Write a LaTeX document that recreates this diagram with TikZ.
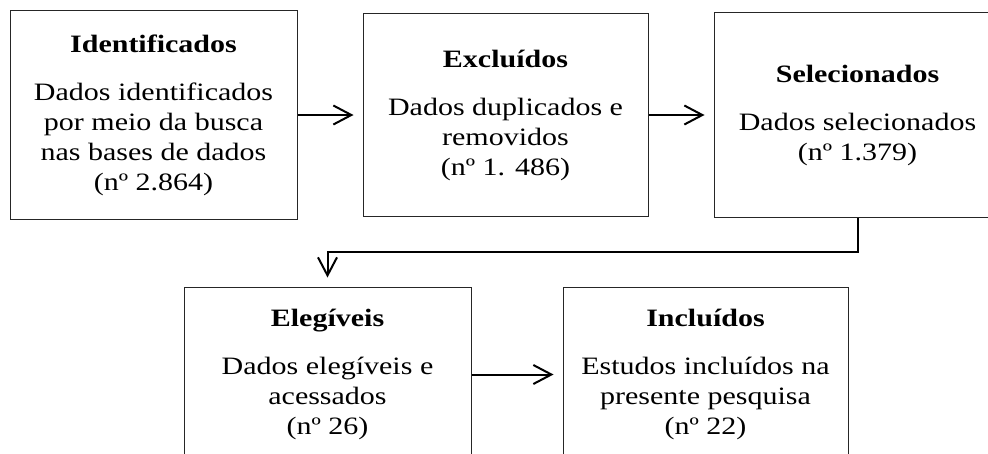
\documentclass[tikz,border=0pt]{standalone}
\usepackage{fontspec}
\setmainfont{Liberation Serif}[FakeStretch=1.2]
\usetikzlibrary{arrows.meta}

\begin{document}
\begin{tikzpicture}[x=1pt,y=1pt]
\tikzstyle{caixa}=[rectangle,draw=black!85,line width=1pt,minimum width=287pt,align=center,font=\fontsize{25}{30}\selectfont,inner sep=0pt]
\tikzstyle{seta}=[line width=2pt,-{Straight Barb[length=18pt,width=19pt]},shorten >=9pt]
\useasboundingbox (0,0) rectangle (988,-453);
\clip (0,0) rectangle (988,-453);
\node [caixa,minimum height=209pt] (1) at (153.5,-115) {\textbf{Identificados}\\[18pt]Dados identificados\\por meio da busca\\nas bases de dados\\(nº 2.864)};
\node [caixa,minimum height=203pt,minimum width=285pt] (2) at (505.5,-115) {\textbf{Excluídos}\\[18pt]Dados duplicados e\\removidos\\(nº 1. 486)};
\node [caixa,minimum height=205pt] (3) at (857.5,-115) {\textbf{Selecionados}\\[18pt]Dados selecionados\\(nº 1.379)};
\node [caixa,minimum height=175pt] (4) at (327.5,-374.5) {\textbf{Elegíveis}\\[18pt]Dados elegíveis e\\acessados\\(nº 26)};
\node [caixa,minimum height=175pt,minimum width=285pt] (5) at (705.5,-374.5) {\textbf{Incluídos}\\[18pt]Estudos incluídos na\\presente pesquisa\\(nº 22)};

\draw [seta] (1) -- (2);
\draw [seta] (2) -- (3);
\draw [seta] (3.south) -- ++(0,-34) -| (4.north);
\draw [seta] (4) -- (5);
\end{tikzpicture}
\end{document}
